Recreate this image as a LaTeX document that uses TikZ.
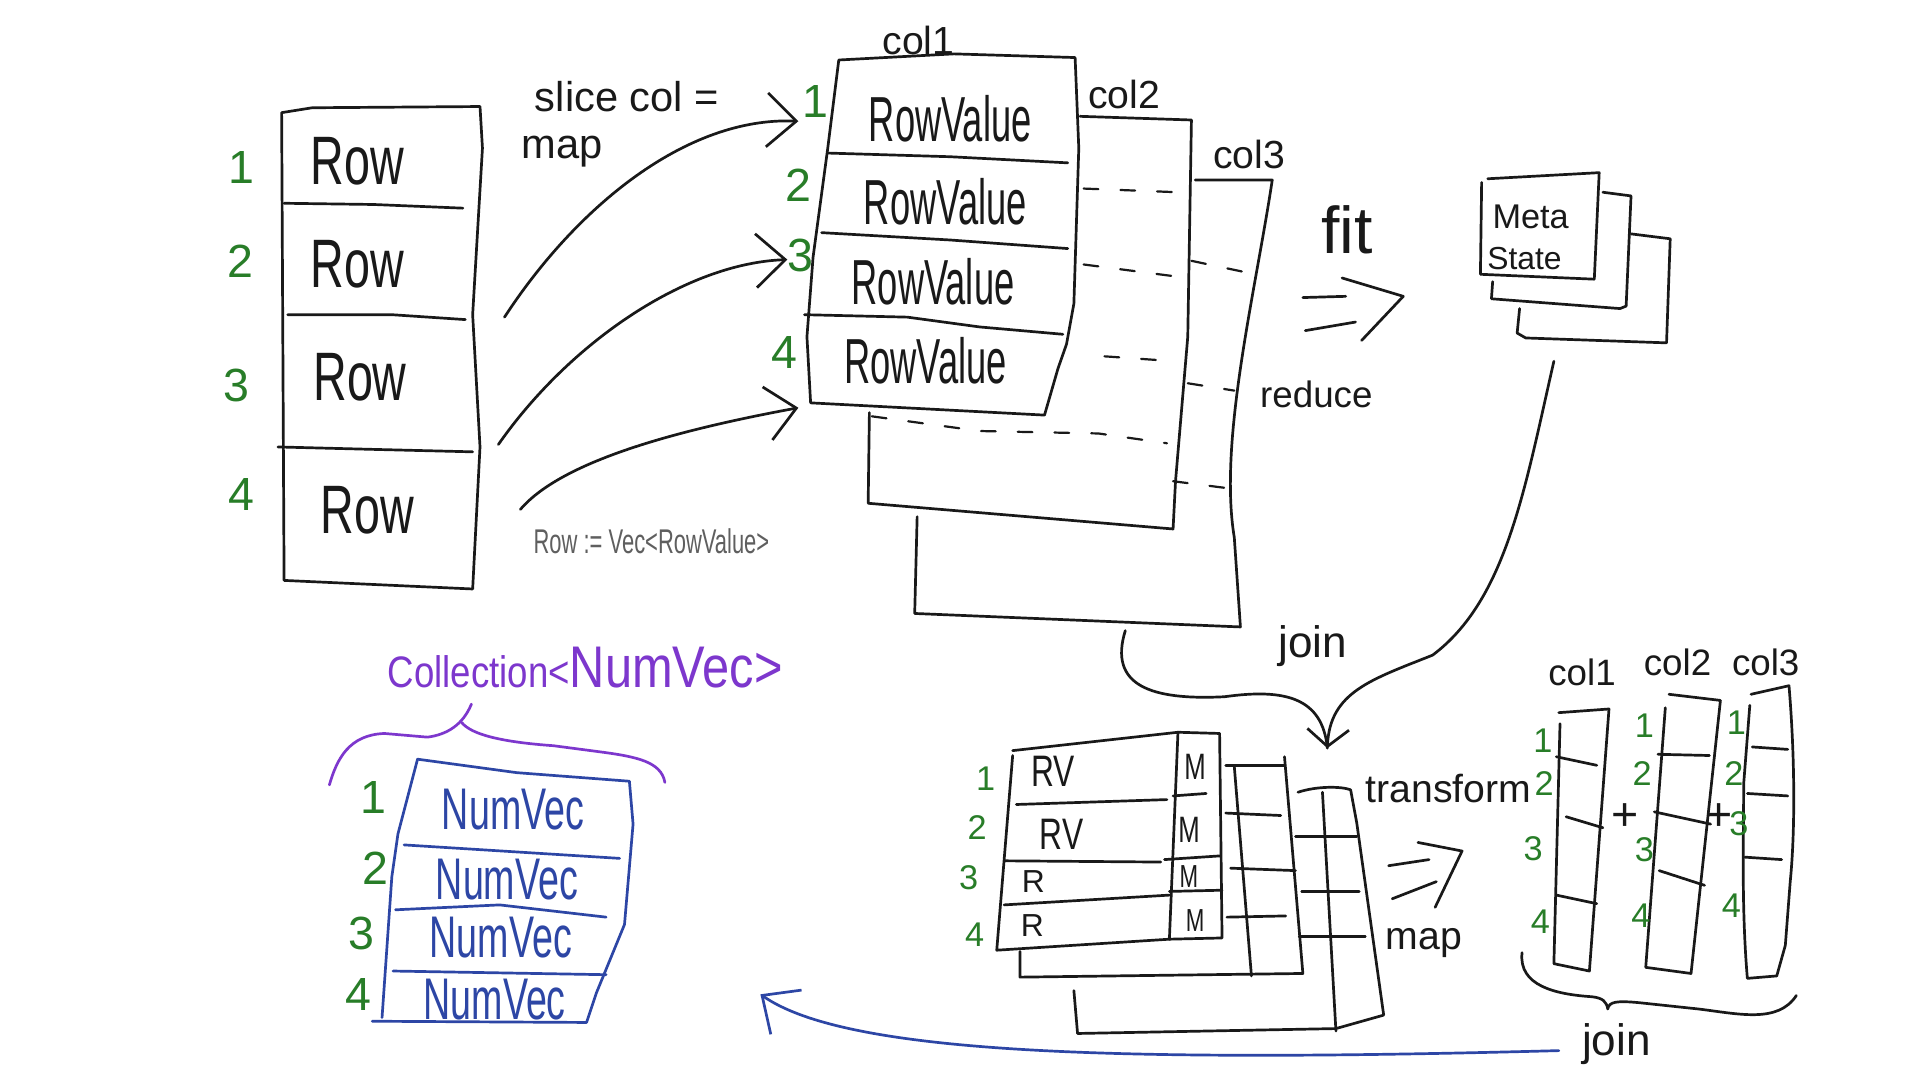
\documentclass[tikz,border=0pt]{standalone}
\usepackage{fontspec}
\usepackage{graphicx}
\setmainfont{Liberation Sans}
\usetikzlibrary{arrows.meta}
\definecolor{inkc}{RGB}{25,25,25}
\definecolor{grn}{RGB}{40,125,40}
\definecolor{blu}{RGB}{45,70,165}
\definecolor{pur}{RGB}{125,55,205}
\definecolor{gry}{RGB}{95,95,95}
\newcommand\sqz[2]{\scalebox{#1}[1]{#2}}
\newcommand\fsz[1]{\fontsize{#1}{#1}\selectfont}
\begin{document}
\begin{tikzpicture}[x=0.5pt,y=-0.5pt,line width=1.1pt,line cap=round,line join=round,
  pen/.style={draw=inkc},
  txt/.style={inner sep=0pt,text=inkc},
  num/.style={inner sep=0pt,text=grn,font=\fsz{19}},
  snum/.style={inner sep=0pt,text=grn,font=\fsz{14}},
  dsh/.style={draw=inkc,line width=0.9pt,dash pattern=on 6pt off 9pt},
  tip/.style={-{Straight Barb[length=12pt,width=22pt]}},
  smalltip/.style={-{Straight Barb[length=7pt,width=17pt]}}]
\useasboundingbox (0,0) rectangle (1568,882);
\fill[white] (0,0) rectangle (1568,882);

% ---------- Row table ----------
\draw[pen] (230,92) -- (255,88) -- (392,87) -- (394,121) -- (386,257) -- (392,365) -- (386,481) -- (232,474) -- cycle;
\draw[pen] (232,166) -- (305,167) -- (378,170);
\draw[pen] (235,257) -- (320,257) -- (380,261);
\draw[pen] (227,365) -- (305,367) -- (386,369);
\node[txt,font=\fsz{28}] (row1) at (292,132) {\sqz{0.68}{Row}};
\node[txt,font=\fsz{28}] (row2) at (292,216) {\sqz{0.68}{Row}};
\node[txt,font=\fsz{28}] (row3) at (294,308) {\sqz{0.68}{Row}};
\node[txt,font=\fsz{28}] (row4) at (300,417) {\sqz{0.68}{Row}};
\node[num] (rn1) at (197,137) {1};
\node[num] (rn2) at (196,213) {2};
\node[num] (rn3) at (193,315) {3};
\node[num] (rn4) at (197,404) {4};

\node[txt,font=\fsz{17}] (slice) at (512,79) {slice col =};
\node[txt,font=\fsz{17}] (map1) at (459,124) {map};
\node[inner sep=0pt,text=gry,font=\fsz{14}] (rowdef) at (532,442) {\sqz{0.64}{Row := Vec<RowValue>}};

% arrows rows -> col1
\coordinate (a1s) at (412,259); \coordinate (a1e) at (652,99);
\coordinate (a2s) at (407,363); \coordinate (a2e) at (643,212);
\coordinate (a3s) at (425,416); \coordinate (a3e) at (652,333);
\draw[pen,tip] (a1s) .. controls (470,170) and (560,95) .. (a1e);
\draw[pen,tip] (a2s) .. controls (465,280) and (560,215) .. (a2e);
\draw[pen,tip] (a3s) .. controls (460,375) and (560,350) .. (a3e);

% ---------- col1 / col2 / col3 ----------
\draw[pen] (685,49) -- (779,44) -- (878,47) -- (881,121) -- (877,248) -- (871,281) -- (864,301) -- (853,339) -- (662,329) -- (659,275) -- (664,210) -- (676,121) -- cycle;
\draw[pen] (676,125) -- (776,128) -- (872,133);
\draw[pen] (671,190) -- (776,196) -- (872,203);
\draw[pen] (657,257) -- (741,259) -- (800,267) -- (868,273);
\node[txt,font=\fsz{26}] (rv1) at (776,97) {\sqz{0.57}{RowValue}};
\node[txt,font=\fsz{26}] (rv2) at (772,165) {\sqz{0.57}{RowValue}};
\node[txt,font=\fsz{26}] (rv3) at (762,230) {\sqz{0.57}{RowValue}};
\node[txt,font=\fsz{26}] (rv4) at (756,295) {\sqz{0.57}{RowValue}};
\node[num] (cn1) at (666,83) {1};
\node[num] (cn2) at (652,151) {2};
\node[num] (cn3) at (654,209) {3};
\node[num] (cn4) at (641,288) {4};

\draw[pen] (882,95) -- (973,98) -- (970,275) -- (960,393) -- (958,432) -- (709,411) -- (710,337);
\draw[pen] (976,147) -- (1039,147) .. controls (1025,240) and (995,360) .. (1008,439) -- (1013,512) -- (747,501) -- (749,422);
\draw[dsh] (885,154) -- (962,157);
\draw[dsh] (885,216) -- (962,226);
\draw[dsh] (902,291) -- (959,295);
\draw[dsh] (712,340) -- (800,352) -- (897,354) -- (953,362);
\draw[dsh] (973,213) -- (1025,224);
\draw[dsh] (970,313) -- (1008,319);
\draw[dsh] (958,393) -- (1005,399);
\node[txt,font=\fsz{16}] (col1) at (750,33) {col1};
\node[txt,font=\fsz{16}] (col2) at (918,77) {col2};
\node[txt,font=\fsz{16}] (col3) at (1020,126) {col3};

% ---------- fit / reduce ----------
\node[txt,font=\fsz{27}] (fit) at (1100,188) {fit};
\draw[pen] (1064,243) -- (1099,242);
\draw[pen] (1066,270) -- (1107,263);
\draw[pen] (1096,227) -- (1146,242) -- (1112,278);
\node[txt,font=\fsz{15}] (reduce) at (1075,322) {reduce};

% ---------- Meta State ----------
\draw[pen] (1215,146) -- (1306,141) -- (1302,228) -- (1209,224) -- (1210,149);
\draw[pen] (1309,157) -- (1332,160) -- (1328,250) -- (1323,252) -- (1218,244) -- (1219,230);
\draw[pen] (1332,191) -- (1364,195) -- (1361,280) -- (1246,276) -- (1239,272) -- (1241,252);
\node[txt,font=\fsz{14}] (meta) at (1250,177) {Meta};
\node[txt,font=\fsz{13}] (state) at (1245,211) {State};

% ---------- join ----------
\coordinate (jl) at (919,515);
\coordinate (jr) at (1269,295);
\coordinate (jt) at (1084,611);
\draw[pen] (jl) .. controls (905,560) and (940,572) .. (1000,569) .. controls (1050,562) and (1080,570) .. (jt);
\draw[pen,smalltip] (jr) .. controls (1245,400) and (1230,490) .. (1170,535) .. controls (1120,555) and (1086,565) .. (jt);
\node[txt,font=\fsz{18}] (join1) at (1072,528) {join};

% ---------- RV / M table ----------
\draw[pen] (827,613) -- (962,598) -- (955,767) -- (814,776) -- (827,617);
\draw[pen] (962,598) -- (996,599) -- (998,766) -- (955,767);
\draw[pen] (830,657) -- (953,653);
\draw[pen] (821,703) -- (948,704);
\draw[pen] (820,739) -- (955,731);
\draw[pen] (958,650) -- (985,648);
\draw[pen] (951,702) -- (996,699);
\draw[pen] (955,728) -- (998,727);
\node[txt,font=\fsz{18}] (t1) at (860,630) {\sqz{0.72}{RV}};
\node[txt,font=\fsz{18}] (t2) at (867,681) {\sqz{0.72}{RV}};
\node[txt,font=\fsz{13}] (t3) at (844,720) {R};
\node[txt,font=\fsz{13}] (t4) at (843,756) {R};
\node[txt,font=\fsz{15}] (m1) at (976,626) {\sqz{0.7}{M}};
\node[txt,font=\fsz{15}] (m2) at (971,678) {\sqz{0.7}{M}};
\node[txt,font=\fsz{13}] (m3) at (971,716) {\sqz{0.7}{M}};
\node[txt,font=\fsz{13}] (m4) at (976,752) {\sqz{0.7}{M}};
\node[snum] (tn1) at (805,636) {1};
\node[snum] (tn2) at (798,676) {2};
\node[snum] (tn3) at (791,717) {3};
\node[snum] (tn4) at (796,763) {4};
% second layer
\draw[pen] (1001,625) -- (1049,625);
\draw[pen] (1049,618) -- (1064,795) -- (833,798) -- (833,777);
\draw[pen] (1008,626) -- (1022,797);
\draw[pen] (1001,664) -- (1046,666);
\draw[pen] (1005,709) -- (1058,711);
\draw[pen] (1002,749) -- (1050,748);
% third layer
\draw[pen] (1060,647) .. controls (1075,642) and (1095,642) .. (1103,645) -- (1108,672) -- (1130,829) -- (1091,840) -- (880,844) -- (877,809);
\draw[pen] (1080,647) -- (1091,842);
\draw[pen] (1058,683) -- (1108,683);
\draw[pen] (1063,728) -- (1110,728);
\draw[pen] (1061,765) -- (1115,765);

% transform / map
\node[txt,font=\fsz{16}] (transform) at (1183,644) {transform};
\draw[pen] (1134,707) -- (1167,702);
\draw[pen] (1137,734) -- (1173,720);
\draw[pen] (1158,688) -- (1194,695) -- (1172,741);
\node[txt,font=\fsz{16}] (map2) at (1163,770) {map};

% ---------- right columns ----------
\draw[pen] (1273,582) -- (1314,579) -- (1298,793) -- (1269,787) -- (1274,591);
\draw[pen] (1271,618) -- (1304,625);
\draw[pen] (1279,667) -- (1309,676);
\draw[pen] (1271,731) -- (1304,738);
\draw[pen] (1363,567) -- (1405,572) -- (1381,795) -- (1344,790) -- (1360,578);
\draw[pen] (1354,616) -- (1396,617);
\draw[pen] (1351,663) -- (1397,673);
\draw[pen] (1355,711) -- (1392,723);
\draw[pen] (1430,567) -- (1461,560) .. controls (1466,620) and (1466,680) .. (1462,720) -- (1458,772) -- (1451,797) -- (1427,799) .. controls (1422,740) and (1424,680) .. (1424,640) -- (1429,576);
\draw[pen] (1431,610) -- (1460,612);
\draw[pen] (1427,648) -- (1460,650);
\draw[pen] (1425,700) -- (1455,702);
\node[txt,font=\fsz{15}] (rc1) at (1292,549) {col1};
\node[txt,font=\fsz{15}] (rc2) at (1370,541) {col2};
\node[txt,font=\fsz{15}] (rc3) at (1442,541) {col3};
\node[txt,font=\fsz{19}] (plus1) at (1327,667) {+};
\node[txt,font=\fsz{19}] (plus2) at (1404,667) {+};
\node[snum] (x11) at (1260,605) {1};
\node[snum] (x12) at (1261,640) {2};
\node[snum] (x13) at (1252,693) {3};
\node[snum] (x14) at (1258,753) {4};
\node[snum] (x21) at (1343,593) {1};
\node[snum] (x22) at (1341,632) {2};
\node[snum] (x23) at (1343,694) {3};
\node[snum] (x24) at (1340,748) {4};
\node[snum] (x31) at (1418,590) {1};
\node[snum] (x32) at (1416,632) {2};
\node[snum] (x33) at (1420,673) {3};
\node[snum] (x34) at (1414,740) {4};
\draw[pen] (1243,778) .. controls (1240,805) and (1270,812) .. (1300,814) .. controls (1309,815) and (1312,818) .. (1313,824) .. controls (1314,818) and (1320,817) .. (1340,819) -- (1387,824) .. controls (1420,828) and (1452,836) .. (1467,813);
\node[txt,font=\fsz{18}] (join2) at (1320,853) {join};

% ---------- blue arrow ----------
\coordinate (bs) at (1273,858);
\coordinate (be) at (621,812);
\draw[draw=blu,tip] (bs) .. controls (900,868) and (690,860) .. (be);

% ---------- Collection<NumVec> ----------
\node[inner sep=0pt,text=pur] (coll) at (478,545) {\sqz{0.83}{{\fsz{18}Collection<}{\fsz{24}NumVec>}}};
\draw[draw=pur] (269,641) .. controls (275,620) and (285,600) .. (314,599) -- (349,602) .. controls (365,600) and (378,592) .. (385,575);
\draw[draw=pur] (377,590) .. controls (385,600) and (410,606) .. (452,609) -- (490,614) .. controls (520,618) and (540,622) .. (543,639);

\draw[draw=blu] (341,620) -- (422,631) -- (514,638) -- (517,673) -- (510,755) -- (487,811) -- (479,835) -- (304,834);
\draw[draw=blu] (341,620) -- (325,681) -- (320,716) -- (312,831);
\draw[draw=blu] (330,690) -- (506,701);
\draw[draw=blu] (323,743) -- (408,739) -- (495,749);
\draw[draw=blu] (321,793) -- (495,796);
\node[inner sep=0pt,text=blu,font=\fsz{24}] (nv1) at (419,661) {\sqz{0.64}{NumVec}};
\node[inner sep=0pt,text=blu,font=\fsz{24}] (nv2) at (414,718) {\sqz{0.64}{NumVec}};
\node[inner sep=0pt,text=blu,font=\fsz{24}] (nv3) at (409,766) {\sqz{0.64}{NumVec}};
\node[inner sep=0pt,text=blu,font=\fsz{24}] (nv4) at (404,816) {\sqz{0.64}{NumVec}};
\node[num] (nn1) at (305,651) {1};
\node[num] (nn2) at (307,709) {2};
\node[num] (nn3) at (295,762) {3};
\node[num] (nn4) at (293,812) {4};
\end{tikzpicture}
\end{document}
